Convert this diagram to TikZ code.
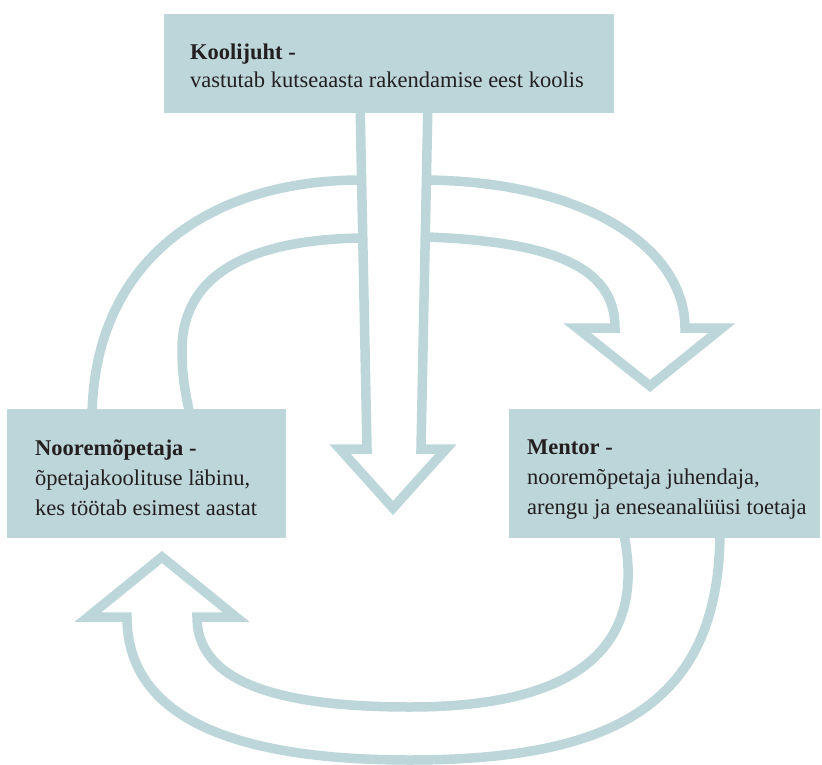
\documentclass[tikz,border=0pt]{standalone}
\usepackage{fontspec}
\setmainfont{Liberation Serif}

\definecolor{paleteal}{RGB}{188,214,218}
\definecolor{inkdark}{RGB}{35,31,32}

\begin{document}
\begin{tikzpicture}[x=1pt,y=-1pt,
  box/.style={fill=paleteal, draw=none, anchor=north west, inner sep=0pt},
  boxtext/.style={anchor=north west, align=left, inner sep=0pt, text=inkdark},
  hollow/.style={draw=paleteal, line width=9.5pt, line join=miter, fill=none}]

\useasboundingbox (0,0) rectangle (822,765);

% central arrow, Koolijuht downwards
\draw[hollow] (360,100) -- (367,449) -- (340,449) -- (393,508) -- (446,449) -- (421,449) -- (428,100);

% left band, from the shaft to Nooremopetaja
\draw[hollow] (361,180) .. controls (210,180) and (92,260) .. (92,420);
\draw[hollow] (361,238) .. controls (240,240) and (182,280) .. (182,350)
  .. controls (182,380) and (186,395) .. (191,420);

% right band with head, towards Mentor
\draw[hollow] (427,180) .. controls (590,182) and (685,250) .. (685,328)
  -- (722,328) -- (650,386) -- (577,328) -- (615,328)
  .. controls (615,270) and (560,242) .. (427,237);

% bottom band, Mentor back to Nooremopetaja
\draw[hollow] (623,530) .. controls (645,630) and (600,707) .. (410,707)
  .. controls (250,707) and (197,670) .. (197,617)
  -- (236,617) -- (162,557) -- (88,617) -- (127,617)
  .. controls (127,700) and (200,760) .. (410,760)
  .. controls (620,760) and (720,700) .. (720,530);

% boxes
\node[box, minimum width=450pt, minimum height=99pt] (koolijuht) at (164,14) {};
\node[box, minimum width=279pt, minimum height=129pt] (noorem) at (7,409) {};
\node[box, minimum width=311pt, minimum height=129pt] (mentor) at (509,409) {};

\node[boxtext, font=\fontsize{22.5}{28}\selectfont] (koolijuhttext)
  at ([shift={(26pt,-29.6pt)}]koolijuht.north west)
  {\textbf{Koolijuht -}\\vastutab kutseaasta rakendamise eest koolis};
\node[boxtext, font=\fontsize{22.5}{30}\selectfont] (nooremtext)
  at ([shift={(28pt,-30.6pt)}]noorem.north west)
  {\textbf{Nooremõpetaja -}\\õpetajakoolituse läbinu,\\kes töötab esimest aastat};
\node[boxtext, font=\fontsize{22.5}{30}\selectfont] (mentortext)
  at ([shift={(18pt,-31pt)}]mentor.north west)
  {\textbf{Mentor -}\\nooremõpetaja juhendaja,\\arengu ja eneseanalüüsi toetaja};
\end{tikzpicture}
\end{document}
